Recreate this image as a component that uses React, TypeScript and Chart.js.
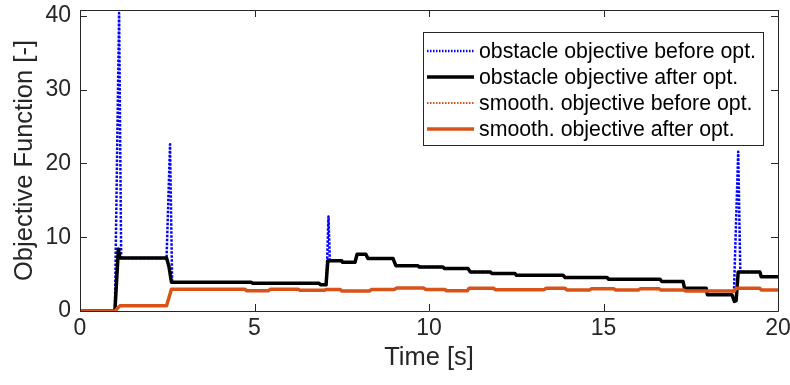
import React, { useEffect, useRef } from "react";
import { Chart, registerables } from "chart.js";

Chart.register(...registerables);

// Time stamps [s] and objective values [-]
const obstacleBeforeTime = [0, 1.0, 1.12, 1.18, 2.48, 2.58, 2.64, 4.9, 4.95, 6.85, 6.9, 7.06, 7.12, 7.16, 7.5, 7.52, 7.88, 7.94, 8.19, 8.25, 8.97, 9.05, 9.68, 9.72, 10.4, 10.45, 11.12, 11.18, 11.75, 11.8, 12.46, 12.5, 13.84, 13.9, 15.1, 15.15, 16.62, 16.67, 17.28, 17.32, 17.94, 17.98, 18.68, 18.74, 18.86, 18.92, 19.48, 19.52, 20];
const obstacleBefore = [0, 0, 40.4, 7.2, 7.2, 22.6, 3.9, 3.9, 3.75, 3.75, 3.55, 3.55, 12.8, 6.8, 6.8, 6.6, 6.6, 7.7, 7.7, 7.1, 7.1, 6.15, 6.15, 5.95, 5.95, 5.75, 5.75, 5.3, 5.3, 5.1, 5.1, 4.85, 4.85, 4.55, 4.55, 4.3, 4.3, 4.0, 4.0, 3.1, 3.1, 2.2, 2.2, 3.0, 21.6, 5.3, 5.3, 4.65, 4.65];

const obstacleAfterTime = [0, 1.0, 1.1, 1.14, 2.48, 2.55, 2.62, 4.9, 4.95, 6.85, 6.9, 7.05, 7.1, 7.5, 7.52, 7.88, 7.94, 8.19, 8.25, 8.97, 9.05, 9.68, 9.72, 10.4, 10.45, 11.12, 11.18, 11.75, 11.8, 12.46, 12.5, 13.84, 13.9, 15.1, 15.15, 16.62, 16.67, 17.28, 17.32, 17.94, 17.98, 18.68, 18.75, 18.8, 18.86, 19.48, 19.52, 20];
const obstacleAfter = [0, 0, 8.4, 7.2, 7.2, 6.0, 3.9, 3.9, 3.75, 3.75, 3.55, 3.55, 6.8, 6.8, 6.6, 6.6, 7.7, 7.7, 7.1, 7.1, 6.15, 6.15, 5.95, 5.95, 5.75, 5.75, 5.3, 5.3, 5.1, 5.1, 4.85, 4.85, 4.55, 4.55, 4.3, 4.3, 4.0, 4.0, 3.1, 3.1, 2.2, 2.2, 1.3, 1.4, 5.3, 5.3, 4.65, 4.65];

const smoothTime = [0, 1.0, 1.14, 2.48, 2.62, 4.72, 4.78, 5.4, 5.45, 6.25, 6.3, 7.0, 7.05, 7.45, 7.5, 8.3, 8.35, 9.0, 9.08, 9.85, 9.9, 10.45, 10.5, 11.1, 11.15, 11.85, 11.9, 13.3, 13.35, 13.9, 13.95, 14.6, 14.65, 15.3, 15.35, 16.0, 16.05, 16.6, 16.65, 17.3, 17.35, 18.75, 18.8, 19.48, 19.52, 20];
const smoothBefore = [0, 0, 0.7, 0.7, 2.95, 2.95, 2.75, 2.75, 2.95, 2.95, 2.8, 2.8, 2.92, 2.92, 2.72, 2.72, 2.9, 2.9, 3.12, 3.12, 2.92, 2.92, 2.75, 2.75, 3.1, 3.1, 2.88, 2.88, 3.07, 3.07, 2.85, 2.85, 3.0, 3.0, 2.85, 2.85, 3.0, 3.0, 2.85, 2.85, 2.72, 2.72, 3.07, 3.07, 2.85, 2.85];
const smoothAfter = [0, 0, 0.7, 0.7, 2.95, 2.95, 2.75, 2.75, 2.95, 2.95, 2.8, 2.8, 2.92, 2.92, 2.72, 2.72, 2.9, 2.9, 3.12, 3.12, 2.92, 2.92, 2.75, 2.75, 3.1, 3.1, 2.88, 2.88, 3.07, 3.07, 2.85, 2.85, 3.0, 3.0, 2.85, 2.85, 3.0, 3.0, 2.85, 2.85, 2.72, 2.72, 3.07, 3.07, 2.85, 2.85];

const xTicks = [0, 5, 10, 15, 20];
const yTicks = [0, 10, 20, 30, 40];

const seriesNames = [
  "obstacle objective before opt.",
  "obstacle objective after opt.",
  "smooth. objective before opt.",
  "smooth. objective after opt.",
];

const FONT = "'Liberation Sans', Arial, Helvetica, sans-serif";
const AXIS_COLOR = "#262626";
const ORANGE = "#D95319";

const toPoints = (t: number[], v: number[]) => t.map((x, i) => ({ x, y: v[i] }));

const boxPlugin = {
  id: "matlabBox",
  afterDatasetsDraw(chart: any) {
    const { ctx, chartArea } = chart;
    const { left, right, top, bottom } = chartArea;
    const xs = chart.scales.x;
    const ys = chart.scales.y;
    const tl = 7;
    ctx.save();
    ctx.strokeStyle = AXIS_COLOR;
    ctx.lineWidth = 1;
    ctx.beginPath();
    ctx.rect(Math.round(left) + 0.5, Math.round(top) + 0.5, Math.round(right - left), Math.round(bottom - top));
    xTicks.forEach((v) => {
      const px = Math.round(xs.getPixelForValue(v)) + 0.5;
      ctx.moveTo(px, bottom);
      ctx.lineTo(px, bottom - tl);
      ctx.moveTo(px, top);
      ctx.lineTo(px, top + tl);
    });
    yTicks.forEach((v) => {
      const py = Math.round(ys.getPixelForValue(v)) + 0.5;
      ctx.moveTo(left, py);
      ctx.lineTo(left + tl, py);
      ctx.moveTo(right, py);
      ctx.lineTo(right - tl, py);
    });
    ctx.stroke();
    ctx.restore();
  },
};

const legendPlugin = {
  id: "matlabLegend",
  afterDraw(chart: any) {
    const { ctx } = chart;
    const bx = 423, by = 32, bw = 340, bh = 113;
    ctx.save();
    ctx.fillStyle = "#ffffff";
    ctx.fillRect(bx, by, bw, bh);
    ctx.strokeStyle = AXIS_COLOR;
    ctx.lineWidth = 1;
    ctx.strokeRect(bx + 0.5, by + 0.5, bw, bh);
    const ds = chart.data.datasets;
    ctx.font = `21.3px ${FONT}`;
    ctx.textBaseline = "middle";
    ctx.textAlign = "left";
    for (let i = 0; i < ds.length; i++) {
      const cy = 51 + i * 26;
      ctx.beginPath();
      ctx.strokeStyle = ds[i].borderColor;
      ctx.lineWidth = Math.min(ds[i].borderWidth, 3.5);
      ctx.setLineDash(ds[i].borderDash ? [1.5, 1.5] : []);
      ctx.moveTo(427, cy);
      ctx.lineTo(474, cy);
      ctx.stroke();
      ctx.setLineDash([]);
      ctx.fillStyle = "#000000";
      ctx.fillText(ds[i].label, 479, cy + 1);
    }
    ctx.restore();
  },
};

export default function App() {
  const canvasRef = useRef<HTMLCanvasElement | null>(null);

  useEffect(() => {
    document.body.style.margin = "0";
    const canvas = canvasRef.current;
    if (!canvas) return;
    const chart = new Chart(canvas, {
      type: "line",
      data: {
        datasets: [
          {
            label: seriesNames[0],
            data: toPoints(obstacleBeforeTime, obstacleBefore),
            borderColor: "#0000FF",
            borderWidth: 2.5,
            borderDash: [2.5, 1.5],
            order: 4,
          },
          {
            label: seriesNames[1],
            data: toPoints(obstacleAfterTime, obstacleAfter),
            borderColor: "#000000",
            borderWidth: 3.5,
            order: 3,
          },
          {
            label: seriesNames[2],
            data: toPoints(smoothTime, smoothBefore),
            borderColor: ORANGE,
            borderWidth: 2,
            borderDash: [2, 2],
            order: 2,
          },
          {
            label: seriesNames[3],
            data: toPoints(smoothTime, smoothAfter),
            borderColor: ORANGE,
            borderWidth: 3.5,
            order: 1,
          },
        ] as any,
      },
      options: {
        animation: false,
        responsive: false,
        devicePixelRatio: 1,
        parsing: false as any,
        elements: {
          point: { radius: 0, hoverRadius: 0 },
          line: { tension: 0, borderJoinStyle: "round" as any, borderCapStyle: "butt" as any },
        },
        layout: { padding: { top: 10, right: 12, left: 0, bottom: 0 }, autoPadding: false } as any,
        plugins: {
          legend: { display: false },
          tooltip: { enabled: false },
        },
        scales: {
          x: {
            type: "linear",
            min: 0,
            max: 20,
            grid: { display: false, drawTicks: false },
            border: { display: false },
            ticks: {
              stepSize: 5,
              font: { family: FONT, size: 23 },
              color: AXIS_COLOR,
              padding: 4,
              maxRotation: 0,
            },
            title: {
              display: true,
              text: "Time [s]",
              font: { family: FONT, size: 25.5 },
              color: AXIS_COLOR,
              padding: { top: 0, bottom: 12 },
            },
            afterFit: (s: any) => {
              s.height = 74;
              s.paddingLeft = 0;
              s.paddingRight = 0;
            },
          },
          y: {
            type: "linear",
            min: 0,
            max: 40.8,
            grid: { display: false, drawTicks: false },
            border: { display: false },
            ticks: {
              stepSize: 10,
              includeBounds: false,
              font: { family: FONT, size: 23 },
              color: AXIS_COLOR,
              padding: 9,
            },
            title: {
              display: true,
              text: "Objective Function [-]",
              font: { family: FONT, size: 25.5 },
              color: AXIS_COLOR,
              padding: { top: 10, bottom: 0 },
            },
            afterFit: (s: any) => {
              s.width = 80;
              s.paddingTop = 0;
              s.paddingBottom = 0;
            },
          },
        },
      } as any,
      plugins: [boxPlugin, legendPlugin],
    });
    return () => chart.destroy();
  }, []);

  return (
    <div style={{ width: 790, height: 385 }}>
      <canvas ref={canvasRef} width={790} height={385} style={{ display: "block" }} />
    </div>
  );
}
